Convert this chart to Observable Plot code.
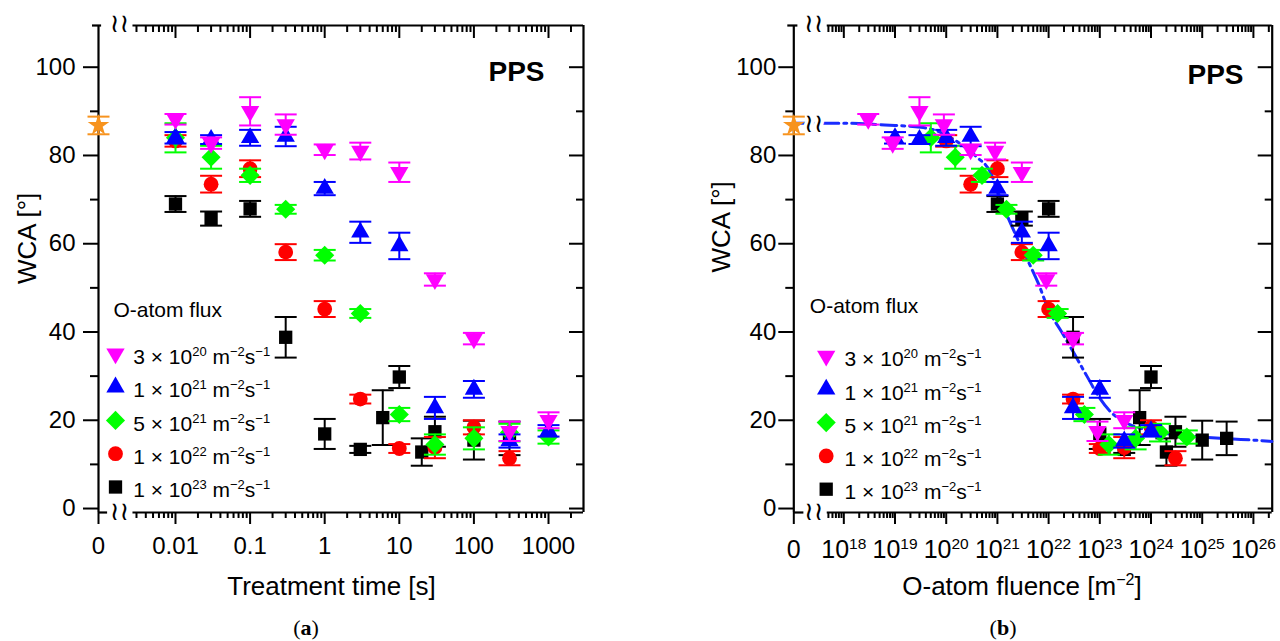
<!DOCTYPE html>
<html><head><meta charset="utf-8">
<script src="https://cdn.jsdelivr.net/npm/d3@7"></script>
<script src="https://cdn.jsdelivr.net/npm/@observablehq/plot@0.6"></script>
<style>
body{margin:0;background:#fff;}
#wrap{position:relative;width:1280px;height:641px;overflow:hidden;background:#fff;font-family:"Liberation Sans",Arial,sans-serif;}
.panel{position:absolute;top:0;width:640px;height:600px;}
.cap{position:absolute;top:616px;font-family:"Liberation Serif","Times New Roman",serif;font-size:22px;line-height:24px;transform:translateX(-50%);color:#000;}
</style></head><body>
<div id="wrap">
  <div id="pa" class="panel" style="left:0"></div>
  <div id="pb" class="panel" style="left:640px"></div>
  <div class="cap" style="left:306px">(<b>a</b>)</div>
  <div class="cap" style="left:1003px">(<b>b</b>)</div>
</div>
<script>
// ---------------- DATA ----------------
const fluxValues = [3e20, 1e21, 5e21, 1e22, 1e23];
const fluxLabels = [
  "3 × 10^{20} m^{−2}s^{−1}",
  "1 × 10^{21} m^{−2}s^{−1}",
  "5 × 10^{21} m^{−2}s^{−1}",
  "1 × 10^{22} m^{−2}s^{−1}",
  "1 × 10^{23} m^{−2}s^{−1}"
];
const seriesColors = ["#ff00ff", "#0000ff", "#00ff00", "#ff0000", "#000000"];

const time3e20 = [0.01, 0.03, 0.1, 0.3, 1, 3, 10, 30, 100, 300, 1000];
const wca3e20  = [88.2, 82.8, 90.0, 87.0, 81.3, 81.0, 76.2, 51.9, 38.5, 17.5, 20.0];
const err3e20  = [1.2, 1.3, 3.2, 2.3, 1.2, 1.9, 2.2, 1.4, 1.3, 2.2, 1.8];

const time1e21 = [0.01, 0.03, 0.1, 0.3, 1, 3, 10, 30, 100, 300, 1000];
const wca1e21  = [84.0, 83.6, 84.0, 84.3, 72.5, 62.6, 59.5, 22.8, 27.0, 15.3, 17.6];
const err1e21  = [1.3, 1.0, 1.8, 2.2, 1.5, 2.4, 3.0, 2.5, 1.9, 1.5, 1.3];

const time5e21 = [0.01, 0.03, 0.1, 0.3, 1, 3, 10, 30, 100, 300, 1000];
const wca5e21  = [84.0, 79.6, 75.5, 67.8, 57.4, 44.2, 21.3, 14.5, 15.9, 17.2, 16.2];
const err5e21  = [3.3, 2.6, 1.5, 1.0, 1.2, 1.0, 1.5, 2.3, 2.5, 2.0, 1.5];

const time1e22 = [0.01, 0.03, 0.1, 0.3, 1, 3, 10, 30, 100, 300];
const wca1e22  = [83.3, 73.5, 77.0, 58.1, 45.2, 24.8, 13.6, 13.8, 18.4, 11.4];
const err1e22  = [1.3, 1.9, 1.9, 1.8, 1.8, 1.0, 1.0, 2.4, 1.6, 1.6];

const time1e23 = [0.01, 0.03, 0.1, 0.3, 1, 3, 6, 10, 20, 30, 100, 300];
const wca1e23  = [69.0, 65.7, 67.9, 38.8, 16.9, 13.4, 20.6, 29.8, 12.8, 17.4, 15.5, 15.9];
const err1e23  = [1.8, 1.6, 1.8, 4.6, 3.4, 0.8, 6.2, 2.5, 3.1, 3.4, 4.4, 3.8];

const untreatedWCA = [86.8];
const untreatedErr = [2.0];

// fit curve (panel b)
const fitFluence = [0, 2e17, 1e18, 6.3e18, 3.2e19, 7.9e19, 1.6e20, 4e20, 7.6e20, 1e21, 1.6e21, 2.5e21, 4e21, 6.3e21, 1e22, 1.8e22, 3.2e22, 5.6e22, 1e23, 1.6e23, 3.2e23, 1e24, 3.2e24, 1e25, 3.2e25, 1e26, 2.3e26];
const fitWCA     = [87.3, 87.3, 87.3, 86.9, 86.4, 85.2, 83.2, 79.6, 75.8, 72.0, 66.0, 61.0, 56.0, 51.0, 45.0, 40.0, 35.0, 30.0, 25.0, 22.0, 19.5, 17.6, 16.7, 16.2, 15.8, 15.5, 15.2];

const yTickValues = [0, 20, 40, 60, 80, 100];
const yMinorTicks = [10, 30, 50, 70, 90];
const xTickValuesA = [0, 0.01, 0.1, 1, 10, 100, 1000];
const xTickLabelsA = ["0", "0.01", "0.1", "1", "10", "100", "1000"];
const xTickValuesB = [0, 1e18, 1e19, 1e20, 1e21, 1e22, 1e23, 1e24, 1e25, 1e26];
const xTickLabelsB = ["0", "10^{18}", "10^{19}", "10^{20}", "10^{21}", "10^{22}", "10^{23}", "10^{24}", "10^{25}", "10^{26}"];

// ---------------- HELPERS ----------------
const seriesTimes = [time3e20, time1e21, time5e21, time1e22, time1e23];
const seriesWCA = [wca3e20, wca1e21, wca5e21, wca1e22, wca1e23];
const seriesErr = [err3e20, err1e21, err5e21, err1e22, err1e23];

const triangleDown = {draw(ctx, size) {
  const s3 = Math.sqrt(3), y = -Math.sqrt(size / (s3 * 3));
  ctx.moveTo(0, -2 * y); ctx.lineTo(-s3 * y, y); ctx.lineTo(s3 * y, y); ctx.closePath();
}};
const capSymbol = {draw(ctx, size) {
  const w = Math.sqrt(size / Math.PI);
  ctx.moveTo(-w, 0); ctx.lineTo(w, 0);
}};
const seriesSymbols = [triangleDown, "triangle", "diamond2", "circle", "square"];
const seriesR = [6.8, 6.8, 8.6, 7.4, 7.5];

const yDomain = [-0.9, 109.45];

function rows(i) {
  return seriesTimes[i].map((t, j) => ({t, f: t * fluxValues[i], v: seriesWCA[i][j], e: seriesErr[i][j]}));
}

function richify(svg) {
  const ns = "http://www.w3.org/2000/svg";
  svg.querySelectorAll("text").forEach(t => {
    const s = t.textContent;
    if (!s.includes("^{")) return;
    const fs = parseFloat(getComputedStyle(t).fontSize) || 20;
    const supScale = 0.62, shift = 0.38 * fs;
    const parts = s.split(/\^\{([^}]*)\}/);
    while (t.firstChild) t.removeChild(t.firstChild);
    let raised = false;
    parts.forEach((p, i) => {
      if (p === "") return;
      const ts = document.createElementNS(ns, "tspan");
      ts.textContent = p;
      if (i % 2 === 1) {
        ts.setAttribute("font-size", (fs * supScale).toFixed(1));
        if (!raised) { ts.setAttribute("dy", (-shift).toFixed(1)); raised = true; }
      } else if (raised) {
        ts.setAttribute("dy", shift.toFixed(1)); raised = false;
      }
      t.appendChild(ts);
    });
  });
}

function buildPanel(cfg) {
  const pos = v => v === 0 ? cfg.u0 : Math.log10(v);
  const marks = [];
  const sw = 2.2;
  const minor = [];
  for (let k = cfg.kMin; k <= cfg.kMax; k++) for (let m = 2; m <= 9; m++) {
    const u = Math.log10(m) + k;
    if (u > cfg.uLogStart && u < cfg.uMax - 0.02) minor.push(u);
  }
  const majorPos = cfg.xTicks.map(pos);
  const labelMap = new Map(majorPos.map((p, i) => [p.toFixed(3), cfg.xLabels[i]]));
  const majorTop = majorPos.filter(u => u > cfg.uLogStart);
  const tickStyle = {strokeWidth: 2, fill: null, label: null};

  // frame
  marks.push(
    Plot.ruleX([cfg.u0], {strokeWidth: sw}),
    Plot.ruleX([cfg.uMax], {strokeWidth: sw}),
    Plot.ruleY([yDomain[1]], {x1: cfg.uLogStart, x2: cfg.uMax, strokeWidth: sw}),
    Plot.ruleY([yDomain[0]], {x1: cfg.uLogStart, x2: cfg.uMax, strokeWidth: sw}),
    Plot.ruleY([yDomain[1]], {x1: cfg.u0, x2: cfg.uSegEnd, strokeWidth: sw, dx: -6}),
    Plot.ruleY([yDomain[0]], {x1: cfg.u0, x2: cfg.uSegEnd, strokeWidth: sw})
  );
  // ticks
  marks.push(
    Plot.axisX({anchor: "bottom", ticks: majorPos, tickSize: 12, ...tickStyle}),
    Plot.axisX({anchor: "bottom", ticks: minor, tickSize: 6, ...tickStyle}),
    Plot.axisX({anchor: "top", ticks: majorTop, tickSize: 12, dy: 12, ...tickStyle}),
    Plot.axisX({anchor: "top", ticks: minor, tickSize: 6, dy: 6, ...tickStyle}),
    Plot.axisY({anchor: "left", ticks: yTickValues, tickSize: 15, ...tickStyle}),
    Plot.axisY({anchor: "left", ticks: yMinorTicks, tickSize: 8, ...tickStyle}),
    Plot.axisY({anchor: "right", ticks: yTickValues, tickSize: 15, dx: -15, ...tickStyle}),
    Plot.axisY({anchor: "right", ticks: yMinorTicks, tickSize: 8, dx: -8, ...tickStyle})
  );
  // tick labels
  marks.push(
    Plot.axisY({anchor: "left", ticks: yTickValues, tickSize: 0, tickPadding: cfg.yLabelPad, fontSize: 24, tickFormat: d => String(d), label: null, stroke: null}),
    Plot.axisX({anchor: "bottom", ticks: majorPos, tickSize: 0, tickPadding: cfg.xLabelPad, fontSize: cfg.xLabelFont, tickFormat: d => labelMap.get(d.toFixed(3)), label: null, stroke: null})
  );
  // axis breaks
  const brk = {x: d => d, text: () => "≀≀", fontSize: 26, fontFamily: "DejaVu Sans", lineAnchor: "middle", letterSpacing: -3};
  marks.push(
    Plot.text([cfg.uBreak], {...brk, frameAnchor: "top", dy: -2}),
    Plot.text([cfg.uBreak], {...brk, frameAnchor: "bottom", dy: -1})
  );
  // fit line (panel b)
  if (cfg.fit) {
    const fit = fitFluence.map((f, i) => ({u: pos(f), v: fitWCA[i]}));
    marks.push(
      Plot.line(fit, {x: "u", y: "v", stroke: "#1a2cff", strokeWidth: 3, strokeDasharray: "16,5,3,5", curve: "monotone-x"}),
      Plot.text([fit[0]], {x: () => cfg.uBreak, y: "v", text: () => "≀≀", fontSize: 26, fontFamily: "DejaVu Sans", lineAnchor: "middle", letterSpacing: -3, stroke: "white", strokeWidth: 7, fill: "black"})
    );
  }
  // data series, drawn black -> magenta
  const addSeries = (data, color, symbol, r) => {
    marks.push(
      Plot.ruleX(data, {x: "px", y1: d => d.v - d.e, y2: d => d.v + d.e, stroke: color, strokeWidth: 2}),
      Plot.dot(data, {x: "px", y: d => d.v + d.e, symbol: capSymbol, r: 11, stroke: color, fill: "none", strokeWidth: 2}),
      Plot.dot(data, {x: "px", y: d => d.v - d.e, symbol: capSymbol, r: 11, stroke: color, fill: "none", strokeWidth: 2}),
      Plot.dot(data, {x: "px", y: "v", symbol, r, fill: color, stroke: "none"})
    );
  };
  for (let i = 4; i >= 0; i--) {
    const d = rows(i).map(o => ({...o, px: pos(cfg.useFluence ? o.f : o.t)}));
    addSeries(d, seriesColors[i], seriesSymbols[i], seriesR[i]);
  }
  const star = untreatedWCA.map((v, j) => ({px: pos(0), v, e: untreatedErr[j]}));
  addSeries(star, "#f7931e", "star", 6.8);

  // legend
  marks.push(Plot.text(["O-atom flux"], {frameAnchor: "top-left", dx: cfg.legTitleDx, dy: cfg.legTitleY - 25, textAnchor: "start", lineAnchor: "middle", fontSize: 21}));
  for (let i = 0; i < 5; i++) {
    const ry = cfg.legY0 + i * 33.3 - 25;
    marks.push(
      Plot.dot([i], {x: null, y: null, frameAnchor: "top-left", dx: cfg.legSymDx, dy: ry, symbol: seriesSymbols[i], r: seriesR[i], fill: seriesColors[i], stroke: "none"}),
      Plot.text([fluxLabels[i]], {frameAnchor: "top-left", dx: cfg.legTextDx, dy: ry + 3.5, textAnchor: "start", lineAnchor: "middle", fontSize: 21})
    );
  }
  // titles
  marks.push(
    Plot.text(["PPS"], {frameAnchor: "top-right", dx: cfg.ppsDx, dy: cfg.ppsDy, textAnchor: "middle", lineAnchor: "middle", fontSize: 28, fontWeight: "bold"}),
    Plot.text([cfg.xTitle], {frameAnchor: "bottom", dx: cfg.xTitleDx, dy: 74, lineAnchor: "middle", fontSize: 26}),
    Plot.text(["WCA [°]"], {frameAnchor: "left", rotate: -90, dx: cfg.yTitleDx, dy: cfg.yTitleDy, lineAnchor: "middle", fontSize: 26})
  );

  const svg = Plot.plot({
    width: 640, height: 600,
    marginLeft: cfg.marginLeft, marginRight: cfg.marginRight, marginTop: 25, marginBottom: 88,
    x: {type: "linear", domain: [cfg.u0, cfg.uMax], axis: null},
    y: {type: "linear", domain: yDomain, axis: null},
    style: {fontFamily: "Liberation Sans, Arial, sans-serif", color: "#000", background: "transparent", overflow: "visible"},
    marks
  });
  document.getElementById(cfg.host).appendChild(svg);
  richify(svg);
}

buildPanel({
  host: "pa", marginLeft: 98, marginRight: 57,
  u0: -3.032, uMax: 3.469, uLogStart: -2.57, uBreak: -2.75, uSegEnd: -2.91, kMin: -3, kMax: 3,
  xTicks: xTickValuesA, xLabels: xTickLabelsA, xLabelPad: 24.5, xLabelFont: 24, yLabelPad: 23,
  useFluence: false, fit: false,
  legTitleDx: 15, legTitleY: 310, legY0: 353.3, legSymDx: 17, legTextDx: 34.7,
  ppsDx: -67, ppsDy: 47,
  xTitle: "Treatment time [s]", xTitleDx: -9.5, yTitleDx: -70.5, yTitleDy: 15
});
buildPanel({
  host: "pb", marginLeft: 153.3, marginRight: 8.3,
  u0: 17.023, uMax: 26.367, uLogStart: 17.676, uBreak: 17.414, uSegEnd: 17.22, kMin: 17, kMax: 26,
  xTicks: xTickValuesB, xLabels: xTickLabelsB, xLabelPad: 28, xLabelFont: 25, yLabelPad: 17.5,
  useFluence: true, fit: true,
  legTitleDx: 16, legTitleY: 306, legY0: 355.5, legSymDx: 32.4, legTextDx: 50.8,
  ppsDx: -56.7, ppsDy: 50,
  xTitle: "O-atom fluence [m^{−2}]", xTitleDx: -11, yTitleDx: -71.7, yTitleDy: 3.5
});
</script>
</body></html>
